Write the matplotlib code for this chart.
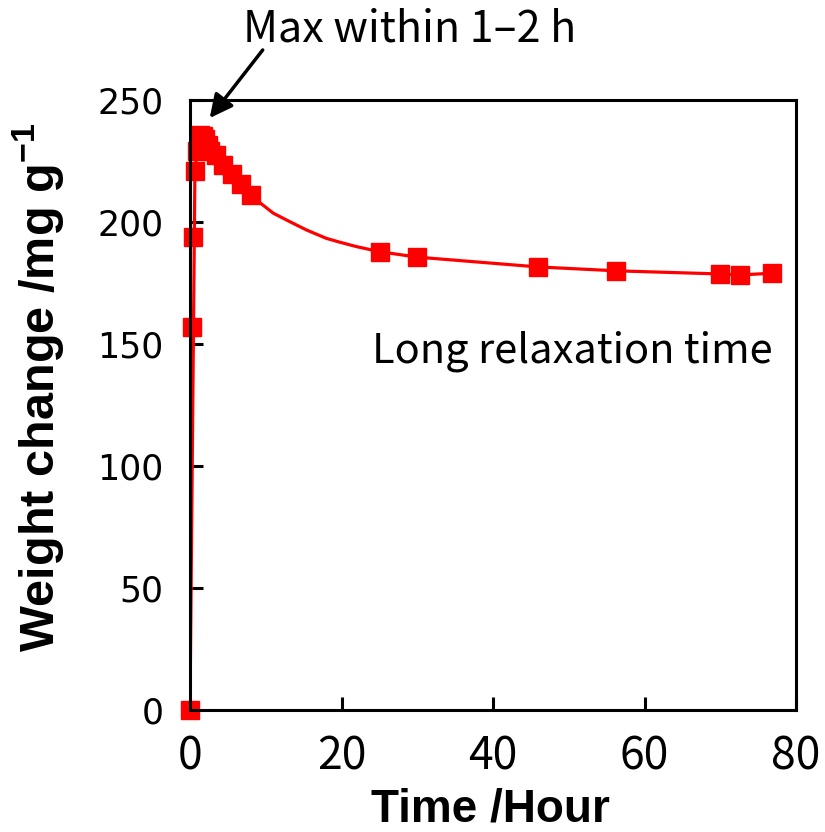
import matplotlib
matplotlib.use("Agg")
import matplotlib.pyplot as plt

# marker readings (time in hours, weight change in mg/g)
time_pts = [0, 0.33, 0.41, 0.65, 0.93, 1.33, 1.67, 2.0, 2.33, 2.67, 3.4, 4.4,
            5.6, 6.7, 8.0, 25.1, 30.0, 45.9, 56.2, 70.0, 72.6, 76.8]
weight_pts = [0, 157, 194, 221, 229, 235.5, 235.4, 234.1, 231.7, 229, 227.3, 223.2,
              219.5, 215.5, 210.9, 187.8, 185.6, 181.6, 180, 178.7, 178.3, 179]

# the drawn curve (denser between 8 and 25 h)
curve_t = [0, 0.65, 0.93, 1.33, 1.67, 2.0, 2.33, 2.67, 3.4, 4.4, 5.6, 6.7, 8.0,
           11.0, 13.2, 15.4, 18.0, 19.8, 22.0, 25.1, 30.0, 45.9, 56.2, 70.0, 72.6, 76.8]
curve_w = [0, 221, 229, 235.5, 235.4, 234.1, 231.7, 229, 227.3, 223.2, 219.5, 215.5, 210.9,
           203.6, 200.1, 196.7, 193.3, 191.7, 189.9, 187.8, 185.6, 181.6, 180, 178.7, 178.3, 179]

x_ticks = [0, 20, 40, 60, 80]
y_ticks = [0, 50, 100, 150, 200, 250]

plt.rcParams['mathtext.fontset'] = 'custom'
plt.rcParams['mathtext.rm'] = 'Liberation Sans'
plt.rcParams['mathtext.bf'] = 'Liberation Sans:bold'

fig = plt.figure(figsize=(8.25, 8.32), dpi=100)
ax = fig.add_axes([190 / 825, 1 - 710 / 832, (796 - 190) / 825, (710 - 100) / 832])

ax.plot(curve_t, curve_w, color='#ff0000', lw=2.3, solid_capstyle='round')
ax.plot(time_pts, weight_pts, ls='none', marker='s', ms=12.5, color='#ff0000',
        mec='#ff0000', clip_on=False)

ax.set_xlim(0, 80)
ax.set_ylim(0, 250)
ax.set_xticks(x_ticks, [str(v) for v in x_ticks], fontsize=32,
              family='Noto Sans CJK JP')
ax.set_yticks(y_ticks, [str(v) for v in y_ticks], fontsize=25,
              family='DejaVu Sans')

for sp in ax.spines.values():
    sp.set_linewidth(2.2)
    sp.set_color('black')

ax.tick_params(direction='in', length=9.5, width=2.2, top=False, right=False)
ax.tick_params(axis='y', pad=19)
ax.tick_params(axis='x', pad=17)

# axis titles
fig.text(0.046, 0.534, r'Weight change /mg g$^{\mathbf{-1}}$', rotation=90,
         ha='center', va='center', fontsize=35, fontweight='bold',
         family='Liberation Sans')
fig.text(0.595, 1 - 822 / 832, 'Time /Hour', ha='center', va='baseline',
         fontsize=33, fontweight='bold', family='Liberation Sans')

# annotations
fig.text(0.497, 1 - 42 / 832, 'Max within 1\u20132 h', ha='center', va='baseline',
         fontsize=31, family='Noto Sans CJK JP')
fig.text(0.694, 1 - 362 / 832, 'Long relaxation time', ha='center', va='baseline',
         fontsize=30, family='Noto Sans CJK JP')
ax.annotate('', xy=(2.6, 242.6), xytext=(9.6, 270.5), annotation_clip=False,
            arrowprops=dict(arrowstyle='-|>,head_length=1.4,head_width=0.7',
                            lw=2.5, color='black', shrinkA=0, shrinkB=0))

fig.savefig('out.png', dpi=100)
